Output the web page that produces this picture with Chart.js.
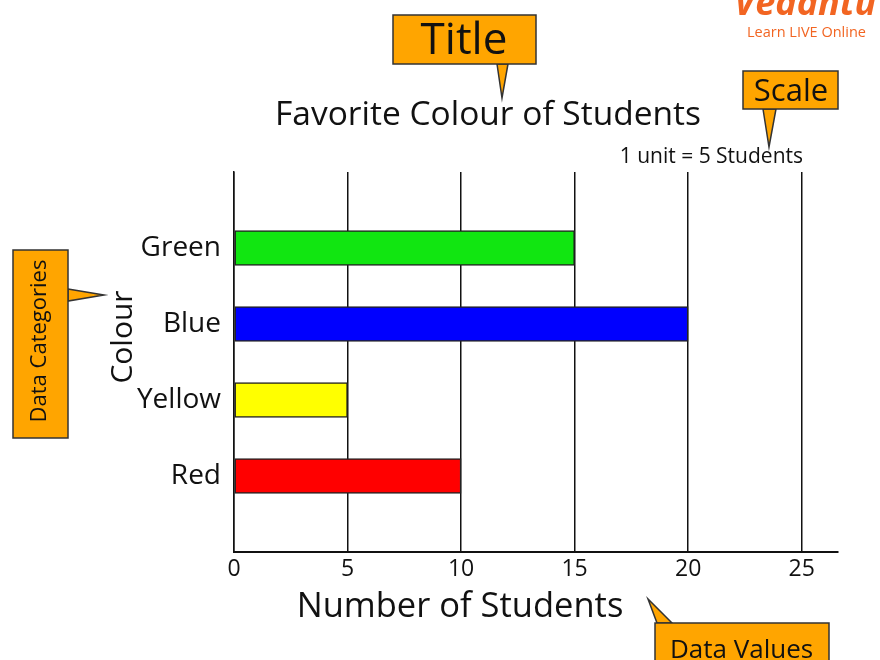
<!DOCTYPE html>
<html>
<head>
<meta charset="utf-8">
<title>Favorite Colour of Students</title>
<script src="https://cdn.jsdelivr.net/npm/chart.js@4.4.1/dist/chart.umd.min.js"></script>
<style>
  html, body { margin: 0; padding: 0; background: #fff; }
  #wrap { width: 880px; height: 660px; }
</style>
</head>
<body>
<div id="wrap"><canvas id="colourChart" width="880" height="660"></canvas></div>
<script>
// ---- data ----
const categories = ['Green', 'Blue', 'Yellow', 'Red'];
const students = [15, 20, 5, 10];
const barColors = ['#11e611', '#0000ff', '#ffff00', '#ff0000'];
const xTicks = [0, 5, 10, 15, 20, 25];

const chartTitle = 'Favorite Colour of Students';
const scaleNote = '1 unit = 5 Students';
const xTitle = 'Number of Students';
const yTitle = 'Colour';

const FONT = "'Open Sans', 'Noto Sans', sans-serif";
const INK = '#111';
const CALLOUT = '#ffa500';

// blank slot above and below so the bars sit away from the plot edges
const labels = [''].concat(categories, ['']);
const values = [null].concat(students, [null]);
const colors = ['#fff'].concat(barColors, ['#fff']);

// ---- callouts, titles, logo ----
function callout(ctx, box, tri, text, font, tx, ty, mode) {
  ctx.save();
  ctx.fillStyle = CALLOUT;
  ctx.strokeStyle = '#333';
  ctx.lineWidth = 1.5;
  ctx.beginPath();
  ctx.moveTo(tri[0][0], tri[0][1]);
  ctx.lineTo(tri[1][0], tri[1][1]);
  ctx.lineTo(tri[2][0], tri[2][1]);
  ctx.closePath();
  ctx.fill();
  ctx.stroke();
  ctx.fillRect(box[0], box[1], box[2], box[3]);
  ctx.strokeRect(box[0], box[1], box[2], box[3]);
  ctx.fillStyle = INK;
  ctx.font = font;
  ctx.textBaseline = 'alphabetic';
  ctx.translate(tx, ty);
  if (mode === 'rotate') {
    ctx.rotate(-Math.PI / 2);
    ctx.textAlign = 'center';
  } else {
    ctx.textAlign = mode === 'left' ? 'left' : 'center';
  }
  ctx.fillText(text, 0, 0);
  ctx.restore();
}

const annotations = {
  id: 'annotations',
  afterDraw(chart) {
    const ctx = chart.ctx;
    ctx.save();
    ctx.fillStyle = INK;
    ctx.textBaseline = 'alphabetic';

    ctx.font = '33.5px ' + FONT;
    ctx.textAlign = 'center';
    ctx.fillText(chartTitle, 488, 125);

    ctx.font = '21px ' + FONT;
    ctx.textAlign = 'right';
    ctx.fillText(scaleNote, 803, 163);

    ctx.font = '34.5px ' + FONT;
    ctx.textAlign = 'center';
    ctx.fillText(xTitle, 460, 617);

    ctx.save();
    ctx.translate(132, 337);
    ctx.rotate(-Math.PI / 2);
    ctx.font = '30px ' + FONT;
    ctx.textAlign = 'center';
    ctx.fillText(yTitle, 0, 0);
    ctx.restore();

    // logo, cut by the top edge
    ctx.fillStyle = '#f26522';
    ctx.font = 'italic bold 36px ' + FONT;
    ctx.textAlign = 'left';
    ctx.fillText('Vedantu', 734, 15);
    ctx.font = '14.5px ' + FONT;
    ctx.fillText('Learn LIVE Online', 747, 37);
    ctx.restore();

    callout(ctx, [393, 15, 143, 49], [[497, 64], [502, 98], [508, 64]],
      'Title', '44px ' + FONT, 464, 54);
    callout(ctx, [743, 71, 95, 38], [[763, 109], [769, 147], [776, 109]],
      'Scale', '31px ' + FONT, 791, 101);
    callout(ctx, [13, 250, 55, 188], [[68, 289], [104, 295], [68, 301]],
      'Data Categories', '22px ' + FONT, 46, 341, 'rotate');
    callout(ctx, [655, 623, 174, 60], [[657, 623], [648, 599], [672, 623]],
      'Data Values', '26px ' + FONT, 670, 658, 'left');
  }
};

new Chart(document.getElementById('colourChart'), {
  type: 'bar',
  data: {
    labels: labels,
    datasets: [{
      data: values,
      backgroundColor: colors,
      borderColor: '#222',
      borderWidth: 1.5,
      borderSkipped: false,
      barThickness: 35
    }]
  },
  options: {
    indexAxis: 'y',
    responsive: false,
    animation: false,
    layout: { padding: { top: 172, right: 42, left: 0, bottom: 0 } },
    plugins: {
      legend: { display: false },
      tooltip: { enabled: false }
    },
    scales: {
      x: {
        type: 'linear',
        min: 0,
        max: 26.6,
        afterBuildTicks: function (scale) {
          scale.ticks = xTicks.map(function (v) { return { value: v }; });
        },
        afterFit: function (scale) { scale.height = 108; },
        grid: { color: INK, lineWidth: 1.5, drawTicks: false },
        border: { color: INK, width: 2 },
        ticks: { color: INK, padding: 4, font: { family: FONT, size: 23 } }
      },
      y: {
        type: 'category',
        offset: false,
        afterFit: function (scale) { scale.width = 234; },
        grid: { display: false, drawTicks: false },
        border: { color: INK, width: 1.5 },
        ticks: { color: INK, padding: 13, font: { family: FONT, size: 28 } }
      }
    }
  },
  plugins: [annotations]
});
</script>
</body>
</html>
